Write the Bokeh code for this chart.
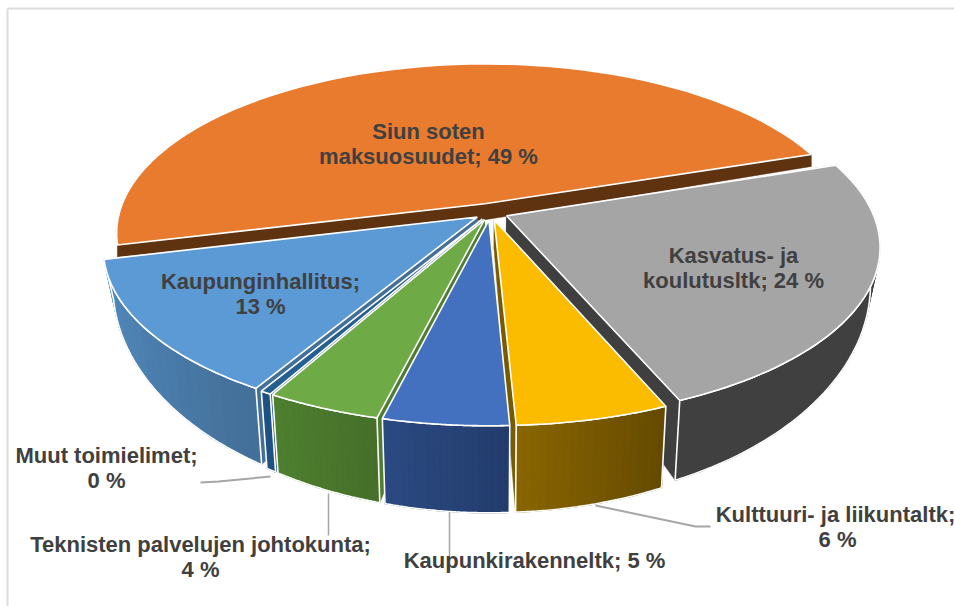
import numpy as np
from bokeh.plotting import figure
from bokeh.models import Range1d
from bokeh.core.properties import value
from bokeh.embed import file_html
from bokeh.resources import INLINE

# --- data ---
categories = ["Siun soten maksuosuudet", "Kasvatus- ja koulutusltk", "Kulttuuri- ja liikuntaltk",
              "Kaupunkirakenneltk", "Teknisten palvelujen johtokunta", "Muut toimielimet", "Kaupunginhallitus"]
values = [48.76, 23.8, 5.6, 4.6, 4.2, 0.4, 12.7]
explode = [0.055, 0.048, 0.045, 0.045, 0.045, 0.045, 0.045]

top_colors = ["#E97B2F", "#A5A5A5", "#FBBC00", "#4371C0", "#6EAB46", "#255E91", "#5B9AD5"]
wall_left = ["#5F3210", "#404040", "#886500", "#2C4A82", "#4E7F2F", "#1F5384", "#528CC1"]
wall_right = ["#5F3210", "#404040", "#654A00", "#223C6C", "#466F2A", "#1F5384", "#436F98"]
chord_colors = ["#5F3210", "#3F3F3F", "#7A5A00", "#2C4A82", "#4F7D30", "#1F5384", "#436F98"]
paint_order = [0, 1, 6, 5, 4, 2, 3]

label_x = [428, 428, 733, 733, 260, 260, 106, 106, 200, 200, 534, 835, 837]
label_y = [131, 156, 255, 280, 281, 306, 455, 480, 544, 569, 560, 514, 539]
label_text = ["Siun soten", "maksuosuudet; 49 %", "Kasvatus- ja", "koulutusltk; 24 %",
              "Kaupunginhallitus;", "13 %", "Muut toimielimet;", "0 %",
              "Teknisten palvelujen johtokunta;", "4 %", "Kaupunkirakenneltk; 5 %",
              "Kulttuuri- ja liikuntaltk;", "6 %"]

leader_x = [[200, 218, 270], [328, 328], [449, 449], [595, 695, 710]]
leader_y = [[482, 481, 476], [493, 535], [511, 571], [505, 526, 526]]
leader_w = [2, 1.5, 1.5, 2]

# --- projection parameters ---
START = 18.5
CX, CY, RX, RY, K = 490.0, 212.0, 366.0, 167.0, 0.174
CYB, RXB, RYB = 239.0, 357.0, 214.0
BACK_WALL = 12.0


def top(X, Y):
    s = 1 / (1 + K * Y)
    return CX + RX * X * s, CY - RY * Y * s


def bot(X, Y):
    s = 1 / (1 + K * Y)
    return CX + RXB * X * s, CYB - RYB * Y * s


frac = np.array(values) / sum(values) * 360.0
a_hi = [START + frac[0]]
a_lo = [START]
cur = START
for f in frac[1:]:
    a_hi.append(cur)
    cur -= f
    a_lo.append(cur)

XS, YS, FILL, LINE, LW = [], [], [], [], []


def add(x, y, fill, line, lw):
    XS.append(list(x)); YS.append(list(y)); FILL.append(fill); LINE.append(line); LW.append(lw)


def mix(c0, c1, t):
    a = [int(c0[i:i + 2], 16) for i in (1, 3, 5)]
    b = [int(c1[i:i + 2], 16) for i in (1, 3, 5)]
    return "#%02x%02x%02x" % tuple(int(round(p + (q - p) * t)) for p, q in zip(a, b))


WHITE = "#ffffff"
for i in paint_order:
    lo, hi = np.radians(a_lo[i]), np.radians(a_hi[i])
    mid = (lo + hi) / 2
    ox, oy = explode[i] * np.cos(mid), explode[i] * np.sin(mid)
    th = np.linspace(lo, hi, 60)
    RimX, RimY = ox + np.cos(th), oy + np.sin(th)
    tx, ty = top(RimX, RimY)
    ax, ay = top(ox, oy)
    if i == 0:
        wx = [tx[0], ax, tx[-1], tx[-1], ax, tx[0]]
        wy = [ty[0], ay, ty[-1], ty[-1] + BACK_WALL, ay + BACK_WALL + 4, ty[0] + BACK_WALL]
        add(wx, wy, chord_colors[i], chord_colors[i], 0.5)
    else:
        bx, by = bot(RimX, RimY)
        bax, bay = bot(ox, oy)
        add([ax, tx[0], bx[0], bax], [ay, ty[0], by[0], bay], chord_colors[i], chord_colors[i], 0.5)
        add([ax, tx[-1], bx[-1], bax], [ay, ty[-1], by[-1], bay], chord_colors[i], chord_colors[i], 0.5)
        outline_x, outline_y = list(tx) + list(bx[::-1]), list(ty) + list(by[::-1])
        base = mix(wall_left[i], wall_right[i], 0.5)
        add(outline_x, outline_y, base, base, 0.5)
        n = len(th) - 1
        for j in range(0, n, 3):
            t = j / max(n - 1, 1)
            c = mix(wall_left[i], wall_right[i], t)
            e = min(j + 3, n)
            add([tx[j], tx[e], bx[e], bx[j]], [ty[j], ty[e], by[e], by[j]], c, c, 1.2)
        add(outline_x, outline_y, None, WHITE, 1.6)
    add([ax] + list(tx), [ay] + list(ty), top_colors[i], WHITE, 1.6)

p = figure(width=954, height=606, output_backend="svg", toolbar_location=None,
           x_range=Range1d(0, 954), y_range=Range1d(606, 0), min_border=0)
p.axis.visible = False
p.grid.visible = False
p.outline_line_color = None
p.background_fill_color = "#ffffff"

p.segment(x0=[7, 7], y0=[8, 8], x1=[954, 7], y1=[8, 606], line_color="#dcdcdc", line_width=2)
p.multi_line(leader_x, leader_y, line_color="#a6a6a6", line_width=leader_w)
p.patches(XS, YS, fill_color=["#00000000" if c is None else c for c in FILL], line_color=LINE, line_width=LW)
p.text(label_x, label_y, text=label_text, text_font=value("Liberation Sans"), text_font_style="bold",
       text_font_size="22px", text_color="#404040", text_align="center", text_baseline="middle")

open("out.html", "w").write(file_html(p, INLINE))
